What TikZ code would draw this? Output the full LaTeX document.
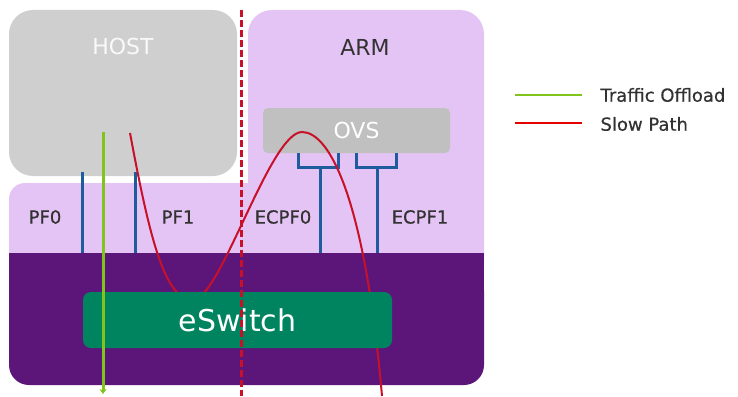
\documentclass[tikz,border=0pt]{standalone}
\usepackage{fontspec}
\setmainfont{DejaVu Sans}
\newfontfamily\semifont[FakeBold=0.5]{DejaVu Sans}
\usetikzlibrary{arrows.meta}
\definecolor{hostgray}{RGB}{207,207,207}
\definecolor{lilac}{RGB}{228,196,244}
\definecolor{plum}{RGB}{92,22,122}
\definecolor{ovsgray}{RGB}{192,192,192}
\definecolor{swgreen}{RGB}{0,132,96}
\definecolor{pblue}{RGB}{31,92,158}
\definecolor{pred}{RGB}{200,16,40}
\definecolor{pgreen}{RGB}{128,196,28}
\definecolor{txt}{RGB}{50,50,50}
\tikzset{
  bigtxt/.style={font=\fontsize{22}{24}\selectfont},
  pflabel/.style={text=txt, font=\semifont\fontsize{18}{20}\selectfont},
  legtxt/.style={text=txt, font=\semifont\fontsize{18}{20}\selectfont, anchor=west},
  bluel/.style={draw=pblue, line width=3pt},
  redl/.style={draw=pred, line width=2pt},
  greenl/.style={draw=pgreen, line width=3pt},
}
\begin{document}
\begin{tikzpicture}[x=1pt,y=-1pt]
\useasboundingbox (0,0) rectangle (738,396);
% background shapes
\fill[lilac, rounded corners=16] (9,183) rectangle (300,290);
\fill[lilac, rounded corners=24] (248,10) rectangle (484,290);
\fill[plum] (9,253) rectangle (484,300);
\fill[plum, rounded corners=20] (9,270) rectangle (484,385);
\fill[hostgray, rounded corners=24] (9,10) rectangle (237,176);
% labels
\node[bigtxt, text=white!95!gray] (host) at (123,46) {HOST};
\node[bigtxt, text=txt] (arm) at (365,47) {ARM};
\node[pflabel] (pf0) at (45,217) {PF0};
\node[pflabel] (pf1) at (178,217) {PF1};
\node[pflabel] (ecpf0) at (283,217) {ECPF0};
\node[pflabel] (ecpf1) at (420,217) {ECPF1};
% OVS
\node[fill=ovsgray, rounded corners=5, minimum width=187pt, minimum height=45pt, inner sep=0pt,
      bigtxt, text=white] (ovs) at (356.5,130.5) {OVS};
% blue port lines
\coordinate (pf0t) at (82,172); \coordinate (pf0b) at (82,253);
\coordinate (pf1t) at (135,172); \coordinate (pf1b) at (135,253);
\draw[bluel] (pf0t) -- (pf0b);
\draw[bluel] (pf1t) -- (pf1b);
\draw[bluel] (298.5,153) -- (298.5,167) -- (338.5,167) -- (338.5,153);
\coordinate (e0t) at (320,167); \coordinate (e0b) at (320,253);
\draw[bluel] (e0t) -- (e0b);
\draw[bluel] (356.5,153) -- (356.5,167) -- (396,167) -- (396,153);
\coordinate (e1t) at (377,167); \coordinate (e1b) at (377,253);
\draw[bluel] (e1t) -- (e1b);
% slow path curve
\coordinate (rstart) at (130,133);
\coordinate (rvalley) at (193,300);
\coordinate (rpeak) at (302,132);
\coordinate (rend) at (382,396);
\draw[redl] (rstart) .. controls (150,240) and (165,300) .. (rvalley)
  .. controls (220,300) and (270,132) .. (rpeak)
  .. controls (330,132) and (365,200) .. (rend);
% eSwitch
\node[fill=swgreen, rounded corners=8, minimum width=309pt, minimum height=56pt, inner sep=0pt,
      text=white, font=\fontsize{30}{32}\selectfont] (esw) at (237.5,320) {eSwitch};
% traffic offload
\coordinate (gtop) at (103,132); \coordinate (gbot) at (103,394);
\draw[greenl, -{Stealth[length=5pt,width=7pt]}] (gtop) -- (gbot);
% divider
\coordinate (dtop) at (241,10); \coordinate (dbot) at (241,396);
\draw[draw=pred, line width=3pt, dash pattern=on 7pt off 3pt] (dtop) -- (dbot);
% legend
\coordinate (l1a) at (515,95); \coordinate (l1b) at (582,95);
\coordinate (l2a) at (515,123); \coordinate (l2b) at (582,123);
\draw[draw=pgreen, line width=2.5pt] (l1a) -- (l1b);
\draw[draw=red!90!black, line width=2.5pt] (l2a) -- (l2b);
\node[legtxt] (leg1) at (597,95) {Traffic Offload};
\node[legtxt] (leg2) at (597,124) {Slow Path};
\end{tikzpicture}
\end{document}
